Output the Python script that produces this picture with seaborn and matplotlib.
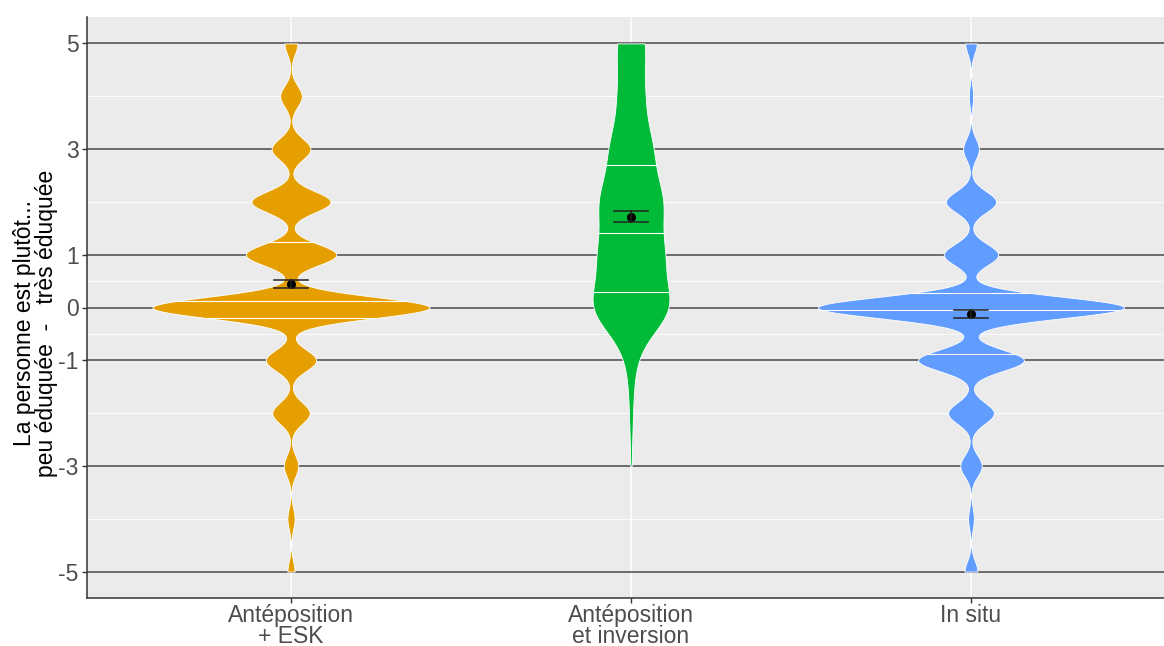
import numpy as np
import pandas as pd
import matplotlib
matplotlib.use("Agg")
import matplotlib.pyplot as plt
import seaborn as sns

# ---------------- data ----------------
categories = ["Antéposition\n+ ESK", "Antéposition\net inversion", "In situ"]
scale_values = [-5, -4, -3, -2, -1, 0, 1, 2, 3, 4, 5]
counts_esk = [5, 5, 10, 26, 35, 193, 63, 55, 27, 15, 9]
counts_inversion = [0, 0, 1, 3, 7, 66, 52, 52, 35, 21, 24]
counts_insitu = [9, 4, 15, 32, 74, 214, 38, 35, 11, 3, 8]
ytick_values = [-5, -3, -1, 0, 1, 3, 5]
ytick_labels = ["-5", "-3", "-1", "0", "1", "3", "5"]
ylabel_text = "La personne est plutôt...\npeu éduquée  -   très éduquée"

# ---------------- style ----------------
colors = {categories[0]: "#E69F00", categories[1]: "#00BA38", categories[2]: "#619CFF"}
bandwidth = {categories[0]: 0.2, categories[1]: 0.5, categories[2]: 0.2}   # data units
violin_width = {categories[0]: 0.815, categories[1]: 0.226, categories[2]: 0.9}

plt.rcParams["font.family"] = ["Liberation Sans", "DejaVu Sans"]

rows = []
for cat, cnts in zip(categories, [counts_esk, counts_inversion, counts_insitu]):
    vals = np.repeat(scale_values, cnts)
    rows.append(pd.DataFrame({"cond": cat, "score": vals.astype(float)}))
df = pd.concat(rows, ignore_index=True)

fig = plt.figure(figsize=(11.64, 6.46), dpi=100)
ax = fig.add_axes([87 / 1164, 1 - 598 / 646, 1088 / 1164, 581 / 646])
ax.set_facecolor("#EBEBEB")
ax.set_axisbelow(True)


def draw_quartiles(ax, coll, center):
    verts = np.vstack([p.vertices for p in coll.get_paths()])
    right = verts[verts[:, 0] >= center]
    ys = right[:, 1]
    hw = right[:, 0] - center
    order = np.argsort(ys, kind="stable")
    ys, hw = ys[order], hw[order]
    uy, idx = np.unique(ys, return_index=True)
    hw_max = np.maximum.reduceat(hw, idx)
    cdf = np.concatenate([[0.0], np.cumsum(np.diff(uy) * (hw_max[1:] + hw_max[:-1]) / 2)])
    cdf /= cdf[-1]
    for q in (0.25, 0.5, 0.75):
        yq = np.interp(q, cdf, uy)
        w = np.interp(yq, uy, hw_max)
        ax.plot([center - w, center + w], [yq, yq], color="white", lw=0.8, zorder=3)


for i, cat in enumerate(categories):
    sub = df[df["cond"] == cat]
    factor = bandwidth[cat] / sub["score"].std(ddof=1)
    sns.violinplot(
        data=sub, x="cond", y="score", order=categories,
        color=colors[cat], saturation=1, cut=0, inner=None,
        density_norm="width", width=violin_width[cat],
        bw_method=factor, bw_adjust=1, gridsize=1500,
        linewidth=0.6, linecolor="white", ax=ax,
    )
    draw_quartiles(ax, ax.collections[-1], i)

sns.pointplot(
    data=df, x="cond", y="score", order=categories,
    errorbar="se", capsize=0.1, color="black", linestyle="none",
    marker="o", markersize=4.5, err_kws={"linewidth": 1.1, "color": "#222222"},
    ax=ax, zorder=5,
)

ax.set_xlim(-0.6, 2.6)
ax.set_ylim(-5.5, 5.5)
ax.set_yticks(ytick_values)
ax.set_yticklabels(ytick_labels)
minor = [(a + b) / 2 for a, b in zip(ytick_values[:-1], ytick_values[1:])]
ax.set_yticks(minor, minor=True)
ax.set_xticks(range(len(categories)))
ax.set_xticklabels(categories, linespacing=0.86)

ax.grid(which="major", axis="y", color="#555555", lw=1.2)
ax.grid(which="minor", axis="y", color="white", lw=0.6)
ax.grid(which="major", axis="x", color="white", lw=1.1)
ax.tick_params(which="minor", length=0)
ax.tick_params(axis="both", which="major", length=3.5, width=1.0, color="#333333",
               labelcolor="#4D4D4D", labelsize=16.5, pad=2.5)
ax.tick_params(axis="x", which="major", pad=1.0)

for s in ["top", "right"]:
    ax.spines[s].set_visible(False)
for s in ["left", "bottom"]:
    ax.spines[s].set_color("#333333")
    ax.spines[s].set_linewidth(1.1)

ax.set_xlabel("")
ax.set_ylabel(ylabel_text, fontsize=16.5, color="black", linespacing=0.95)
ax.yaxis.set_label_coords(-0.027, 0.473)

fig.savefig("out.png", dpi=100)
